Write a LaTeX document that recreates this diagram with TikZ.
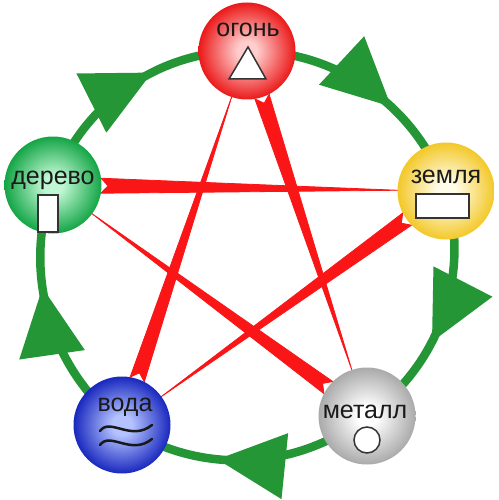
\documentclass[tikz,border=0pt]{standalone}
\usepackage{fontspec}
\setmainfont{Liberation Sans}
\usetikzlibrary{calc,arrows.meta,decorations.markings,backgrounds}

\definecolor{ringgreen}{RGB}{36,150,54}
\definecolor{starred}{RGB}{250,22,22}
\definecolor{firein}{RGB}{255,205,205}
\definecolor{fireout}{RGB}{235,25,25}
\definecolor{earthin}{RGB}{255,252,232}
\definecolor{earthout}{RGB}{243,200,40}
\definecolor{metalin}{RGB}{255,255,255}
\definecolor{metalout}{RGB}{170,170,170}
\definecolor{waterin}{RGB}{180,195,255}
\definecolor{waterout}{RGB}{25,40,190}
\definecolor{woodin}{RGB}{190,247,210}
\definecolor{woodout}{RGB}{20,165,70}
\colorlet{orbin}{white}
\colorlet{orbout}{gray}
\pgfdeclareradialshading[orbin,orbout]{orbshade}{\pgfpointorigin}{color(0bp)=(orbin); color(5bp)=(orbin); color(25bp)=(orbout); color(50bp)=(orbout)}

\tikzset{
  orb/.style 2 args={circle, minimum size=97pt, inner sep=0pt, shading=orbshade,
    /utils/exec={\colorlet{orbin}{#1}\colorlet{orbout}{#2}}},
  lbl/.style={anchor=base, inner sep=0pt, text=black!90, font=\fontsize{25}{30}\selectfont},
  sym/.style={draw=black!80, fill=white, line width=1.5pt},
  wave/.style={draw=black!90, line width=2.5pt, line cap=round},
  ring/.style={draw=ringgreen, line width=8.5pt, bend left=36, looseness=0.94,
    postaction={decorate, decoration={markings,
      mark=at position 0.61 with {\arrow{Triangle[length=68pt,width=64pt]}}}}},
  starline/.style={fill=starred, draw=starred, line width=0.8pt},
}

% tapered red line, broad end at #1, fine end at #2
\newcommand{\redwedge}[2]{%
  \filldraw[starline] ($(#1)!48pt!(#2)!7.5pt!90:(#2)$) -- ($(#2)!48pt!(#1)$)
    -- ($(#1)!48pt!(#2)!7.5pt!-90:(#2)$) -- ($(#1)!55pt!(#2)$) -- cycle;}

\begin{document}
\begin{tikzpicture}[x=1pt, y=-1pt]
\useasboundingbox (0,0) rectangle (498,500);

% elements
\node[orb={firein}{fireout}] (fire) at (247,51) {};
\node[orb={earthin}{earthout}] (earth) at (446,191) {};
\node[orb={metalin}{metalout}] (metal) at (367,416) {};
\node[orb={waterin}{waterout}] (water) at (122,425) {};
\node[orb={woodin}{woodout}] (wood) at (53,185) {};

\node[lbl] (firetxt) at (248,37) {огонь};
\node[lbl] (earthtxt) at (446,183) {земля};
\node[lbl] (metaltxt) at (365,418) {металл};
\node[lbl] (watertxt) at (125,411) {вода};
\node[lbl] (woodtxt) at (53,184) {дерево};

% signs
\draw[sym] (229,79) -- (248,47) -- (266,79) -- cycle;
\draw[sym] (416,194) rectangle (469,218);
\draw[sym] (367,440) circle[radius=13pt];
\draw[wave] (100,431) .. controls (110,417) and (131,442) .. (152,425);
\draw[wave] (100,445) .. controls (110,431) and (131,456) .. (152,439);
\draw[sym] (38,195) rectangle (58,232);

\begin{scope}[on background layer]
% generating cycle
\draw[ring] (fire.center) to (earth.center);
\draw[ring] (earth.center) to (metal.center);
\draw[ring] (metal.center) to (water.center);
\draw[ring] (water.center) to (wood.center);
\draw[ring] (wood.center) to (fire.center);

% controlling star
\redwedge{fire}{metal}
\redwedge{metal}{wood}
\redwedge{wood}{earth}
\redwedge{earth}{water}
\redwedge{water}{fire}
\end{scope}
\end{tikzpicture}
\end{document}
